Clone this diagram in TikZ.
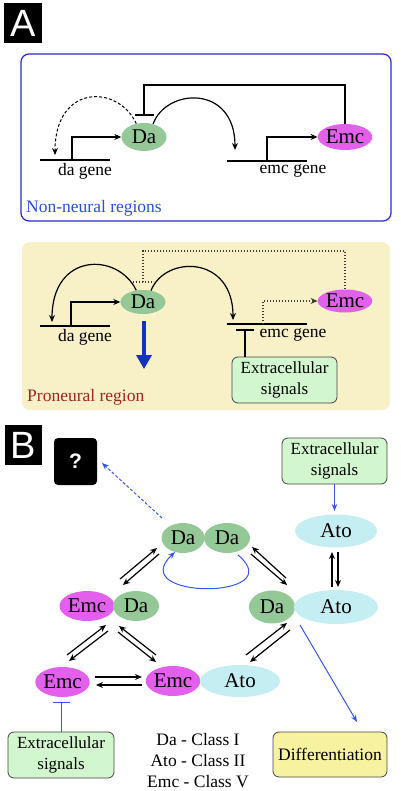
\documentclass[tikz,border=0pt]{standalone}
\usepackage{fontspec}
\setmainfont{Liberation Serif}
\newfontfamily\sansf{Liberation Sans}
\usetikzlibrary{shapes.geometric,arrows.meta,calc}
\definecolor{dagreen}{RGB}{148,200,150}
\definecolor{emcmag}{RGB}{226,96,236}
\definecolor{atocyan}{RGB}{196,238,242}
\definecolor{siggreen}{RGB}{210,246,206}
\definecolor{diffyel}{RGB}{246,242,160}
\definecolor{probg}{RGB}{248,240,198}
\definecolor{boxblue}{RGB}{40,40,205}
\definecolor{txtblue}{RGB}{40,80,215}
\definecolor{pronred}{RGB}{165,35,30}
\definecolor{arrblue}{RGB}{20,50,190}
\definecolor{lblue}{RGB}{55,85,235}
\definecolor{bordergray}{RGB}{70,70,70}
\definecolor{dotgray}{RGB}{60,60,60}
\begin{document}
\begin{tikzpicture}[x=1pt,y=-1pt,
  ell/.style={ellipse,inner sep=0pt,font=\fontsize{21}{22}\selectfont},
  danode/.style={ell,fill=dagreen,minimum width=45pt,minimum height=28pt},
  emcnode/.style={ell,fill=emcmag,minimum width=53pt,minimum height=26pt},
  atonode/.style={ell,fill=atocyan,minimum width=82pt,minimum height=33pt},
  txt/.style={font=\fontsize{17.5}{21}\selectfont,inner sep=0pt},
  sigbox/.style={draw=bordergray,line width=0.8pt,fill=siggreen,rounded corners=6pt,align=center,font=\fontsize{17}{21}\selectfont,inner sep=0pt},
  arr/.style={line width=1.2pt,-{Stealth[length=7pt,width=6pt]}},
  ln/.style={line width=1.2pt},
  dotln/.style={line width=1.1pt,draw=dotgray,dash pattern=on 1.4pt off 1.6pt},
  barr/.style={line width=1pt,draw=lblue,-{Stealth[length=7pt,width=5.5pt]}},
  letterbox/.style={fill=black,text=white,inner sep=0pt,font=\sansf\fontsize{38}{38}\selectfont}
]
\useasboundingbox (0,0) rectangle (400,791);

% ---------- Panel A ----------
\node[letterbox,minimum width=38pt,minimum height=40pt] (labA) at (23,23) {A};

\node[draw=boxblue,line width=1.2pt,rounded corners=8pt,minimum width=370pt,minimum height=167pt,inner sep=0pt] (nonbox) at (206,137.5) {};

\node[danode] (da1) at (144,137) {Da};
\node[emcnode] (emc1) at (345,137) {Emc};

\coordinate (dag1L) at (40,160); \coordinate (dag1R) at (110,160);
\draw[ln] (dag1L) -- (dag1R);
\coordinate (prom1) at (72,160);
\draw[arr] (prom1) |- (da1.west);

\coordinate (dash1e) at (55,155);
\draw[line width=1pt,dash pattern=on 3pt off 2pt,-{Stealth[length=7pt,width=6pt]}] (da1.120) .. controls (118,84) and (55,84) .. (dash1e);

\coordinate (inh1) at (144,115);
\draw[ln] (emc1.north) -- (emc1.north |- 0,85) -| (inh1);
\draw[ln] ($(inh1)+(-9.5,0)$) -- ($(inh1)+(9.5,0)$);

\coordinate (arc1e) at (235,150);
\draw[arr] (da1.55) .. controls (166,88) and (235,84) .. (arc1e);

\coordinate (emg1L) at (227,161); \coordinate (emg1R) at (307,161);
\draw[ln] (emg1L) -- (emg1R);
\coordinate (prom2) at (267,161);
\draw[arr] (prom2) |- (emc1.west);

\node[txt] (dalbl1) at (85,171) {da gene};
\node[txt] (emclbl1) at (293,171) {emc gene};
\node[txt,text=txtblue,anchor=west] (nonlbl) at (26,208) {Non-neural regions};

% ---------- Panel A (proneural) ----------
\node[fill=probg,rounded corners=8pt,minimum width=368pt,minimum height=168pt,inner sep=0pt] (probox) at (206,326) {};

\node[danode,minimum height=24pt] (da2) at (143,302) {Da};
\node[emcnode,minimum height=23pt] (emc2) at (345,301) {Emc};

\coordinate (dag2L) at (40,326); \coordinate (dag2R) at (110,326);
\draw[ln] (dag2L) -- (dag2R);
\coordinate (prom3) at (71,326);
\draw[arr] (prom3) |- (da2.west);

\coordinate (arc2e) at (52,322);
\draw[arr] (da2.120) .. controls (118,252) and (52,252) .. (arc2e);
\coordinate (arc3e) at (233,320);
\draw[arr] (da2.55) .. controls (165,255) and (233,255) .. (arc3e);

\coordinate (inh2) at (143,282);
\draw[dotln] (emc2.north) -- (emc2.north |- 0,251) -| (inh2);
\draw[dotln] ($(inh2)+(-10,0)$) -- ($(inh2)+(11,0)$);

\coordinate (emg2L) at (227,324); \coordinate (emg2R) at (307,324);
\draw[ln] (emg2L) -- (emg2R);
\coordinate (prom4) at (263,324);
\draw[dotln,-{Stealth[length=7pt,width=6pt]}] (prom4) |- (emc2.west);

\node[txt] (dalbl2) at (85,337) {da gene};
\node[txt] (emclbl2) at (293,335) {emc gene};

\node[sigbox,minimum width=105pt,minimum height=46pt] (sig1) at (284.5,380) {Extracellular\\signals};
\coordinate (inh3) at (245,330);
\draw[ln] (sig1.north -| inh3) -- (inh3);
\draw[ln] ($(inh3)+(-9,0)$) -- ($(inh3)+(9,0)$);

\coordinate (bigS) at (144,321); \coordinate (bigE) at (144,369);
\draw[line width=4.5pt,draw=arrblue,-{Triangle[length=14pt,width=15pt]}] (bigS) -- (bigE);

\node[txt,text=pronred,anchor=west] (prolbl) at (27,397) {Proneural region};

% ---------- Panel B ----------
\node[letterbox,minimum width=37pt,minimum height=40pt] (labB) at (23.5,445) {B};
\node[fill=black,rounded corners=4pt,minimum width=43pt,minimum height=47pt,inner sep=0pt,text=white,font=\sansf\bfseries\fontsize{21}{21}\selectfont] (qbox) at (75.5,461.5) {?};

\node[sigbox,minimum width=105pt,minimum height=46pt] (sig2) at (334.5,461) {Extracellular\\signals};
\node[atonode] (ato1) at (336,531) {Ato};
\draw[barr] (sig2.south) -- (sig2.south |- 0,511);

\node[danode,minimum width=43pt,minimum height=30pt] (dd1) at (183,538) {Da};
\node[danode,minimum width=46pt,minimum height=30pt] (dd2) at (227,538) {Da};

\coordinate (qS) at (162,518); \coordinate (qE) at (102,463);
\draw[barr,dash pattern=on 3pt off 2pt] (qS) -- (qE);

\coordinate (loopS) at (238,555); \coordinate (loopE) at (175,552);
\draw[barr] (loopS) .. controls (292,600) and (124,600) .. (loopE);

\node[emcnode,minimum width=55pt,minimum height=30pt] (ed_e) at (87,606) {Emc};
\node[danode,minimum width=46pt,minimum height=30pt] (ed_d) at (136,606) {Da};
\node[danode,minimum width=46pt,minimum height=33pt] (da_d) at (272,607) {Da};
\node[atonode,minimum width=84pt,minimum height=34pt] (da_a) at (336,607) {Ato};
\node[emcnode,minimum width=53pt,minimum height=30pt] (emc3) at (62.5,682) {Emc};
\node[emcnode,minimum width=53pt,minimum height=30pt] (ea_e) at (173,681) {Emc};
\node[atonode,minimum width=80pt,minimum height=32pt] (ea_a) at (240,681) {Ato};

% double arrows
\coordinate (p1a) at (120,579); \coordinate (p1b) at (157,548);
\coordinate (p1c) at (159,554); \coordinate (p1d) at (123,585);
\draw[arr] (p1a) -- (p1b); \draw[arr] (p1c) -- (p1d);

\coordinate (p2a) at (286,578); \coordinate (p2b) at (252,547);
\coordinate (p2c) at (251,554); \coordinate (p2d) at (287,585);
\draw[arr] (p2a) -- (p2b); \draw[arr] (p2c) -- (p2d);

\coordinate (p3a) at (332,587); \coordinate (p3b) at (332,552);
\coordinate (p3c) at (338,552); \coordinate (p3d) at (338,587);
\draw[arr] (p3a) -- (p3b); \draw[arr] (p3c) -- (p3d);

\coordinate (p4a) at (67,655); \coordinate (p4b) at (106,625);
\coordinate (p4c) at (108,631); \coordinate (p4d) at (69,661);
\draw[arr] (p4a) -- (p4b); \draw[arr] (p4c) -- (p4d);

\coordinate (p5a) at (156,655); \coordinate (p5b) at (119,626);
\coordinate (p5c) at (118,632); \coordinate (p5d) at (156,662);
\draw[arr] (p5a) -- (p5b); \draw[arr] (p5c) -- (p5d);

\coordinate (p6a) at (246,655); \coordinate (p6b) at (287,623);
\coordinate (p6c) at (290,630); \coordinate (p6d) at (250,662);
\draw[arr] (p6a) -- (p6b); \draw[arr] (p6c) -- (p6d);

\coordinate (p7a) at (95,677); \coordinate (p7b) at (142,677);
\coordinate (p7c) at (142,685); \coordinate (p7d) at (96,685);
\draw[arr] (p7a) -- (p7b); \draw[arr] (p7c) -- (p7d);

\node[sigbox,minimum width=106pt,minimum height=46pt] (sig3) at (61,755) {Extracellular\\signals};
\coordinate (inh4) at (61,702);
\draw[line width=1pt,lblue] (sig3.north) -- (inh4);
\draw[line width=1pt,lblue] ($(inh4)+(-8.5,0)$) -- ($(inh4)+(8.5,0)$);

\node[font=\fontsize{17.5}{21}\selectfont,align=center,inner sep=0pt] (legend) at (198,761) {Da - Class I\\Ato - Class II\\Emc - Class V};

\node[draw=bordergray,line width=0.8pt,fill=diffyel,rounded corners=6pt,minimum width=114pt,minimum height=45pt,inner sep=0pt,font=\fontsize{17.5}{21}\selectfont] (diff) at (330,754.5) {Differentiation};

\coordinate (dfS) at (300,625); \coordinate (dfE) at (357,722);
\draw[barr] (dfS) -- (dfE);
\end{tikzpicture}
\end{document}
